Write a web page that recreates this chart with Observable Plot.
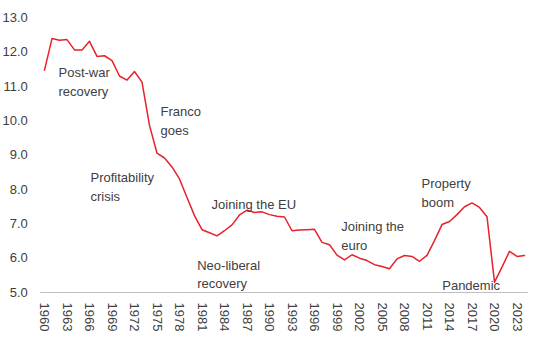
<!DOCTYPE html>
<html>
<head>
<meta charset="utf-8">
<script src="https://cdn.jsdelivr.net/npm/d3@7"></script>
<script src="https://cdn.jsdelivr.net/npm/@observablehq/plot@0.6"></script>
<style>
  html, body { margin: 0; padding: 0; background: #fff; }
  #chart { width: 540px; height: 351px; }
</style>
</head>
<body>
<div id="chart"></div>
<script>
const years = [1960,1961,1962,1963,1964,1965,1966,1967,1968,1969,
  1970,1971,1972,1973,1974,1975,1976,1977,1978,1979,
  1980,1981,1982,1983,1984,1985,1986,1987,1988,1989,
  1990,1991,1992,1993,1994,1995,1996,1997,1998,1999,
  2000,2001,2002,2003,2004,2005,2006,2007,2008,2009,
  2010,2011,2012,2013,2014,2015,2016,2017,2018,2019,
  2020,2021,2022,2023,2024];
const values = [11.48,12.40,12.35,12.37,12.07,12.07,12.32,11.88,11.90,11.76,
  11.31,11.19,11.44,11.13,9.87,9.06,8.92,8.66,8.31,7.77,
  7.24,6.83,6.74,6.65,6.80,6.97,7.26,7.40,7.33,7.35,
  7.27,7.22,7.20,6.80,6.82,6.83,6.84,6.46,6.39,6.09,
  5.95,6.10,6.00,5.93,5.81,5.76,5.69,5.98,6.08,6.05,
  5.91,6.08,6.51,6.98,7.07,7.27,7.50,7.61,7.48,7.21,
  5.30,5.74,6.20,6.05,6.08];
const xTicks = [1960,1963,1966,1969,1972,1975,1978,1981,1984,1987,1990,1993,1996,1999,2002,2005,2008,2011,2014,2017,2020,2023];
const yTicks = [5,6,7,8,9,10,11,12,13];

const annoText = ["Post-war\nrecovery","Franco\ngoes","Profitability\ncrisis","Joining the EU","Neo-liberal\nrecovery","Joining the\neuro","Property\nboom","Pandemic"];
const annoYear = [1961.87,1975.47,1966.13,1982.27,1980.36,1999.56,2010.27,2013.03];
const annoValue = [11.17,10.04,8.12,7.61,5.57,6.69,7.94,5.25];

const series = years.map((y, i) => ({year: y, value: values[i]}));
const annos = annoText.map((t, i) => ({text: t, year: annoYear[i], value: annoValue[i]}));

const chart = Plot.plot({
  width: 540,
  height: 351,
  marginLeft: 40.25,
  marginRight: 12.25,
  marginTop: 17.5,
  marginBottom: 59,
  style: {fontFamily: "'Liberation Sans', Arial, sans-serif", fontSize: "13px", color: "#404040", background: "#fff"},
  x: {domain: [1959.5, 2024.5], label: null},
  y: {domain: [5, 13], label: null},
  marks: [
    Plot.axisY({ticks: yTicks, tickFormat: d3.format(".1f"), tickSize: 0, tickPadding: 13, label: null, fill: "#404040", fontSize: 13}),
    Plot.axisX({ticks: xTicks, tickFormat: d => String(d), tickRotate: 90, tickSize: 0, tickPadding: 10, label: null, fill: "#404040", fontSize: 13}),
    Plot.ruleY([5], {stroke: "#bfbfbf", strokeWidth: 1.2}),
    Plot.line(series, {x: "year", y: "value", stroke: "#e8212b", strokeWidth: 1.5}),
    Plot.text(annos, {x: "year", y: "value", text: "text", textAnchor: "start", lineAnchor: "middle", lineHeight: 1.43, fill: "#404040", fontSize: 13})
  ]
});
document.getElementById("chart").appendChild(chart);
</script>
</body>
</html>
